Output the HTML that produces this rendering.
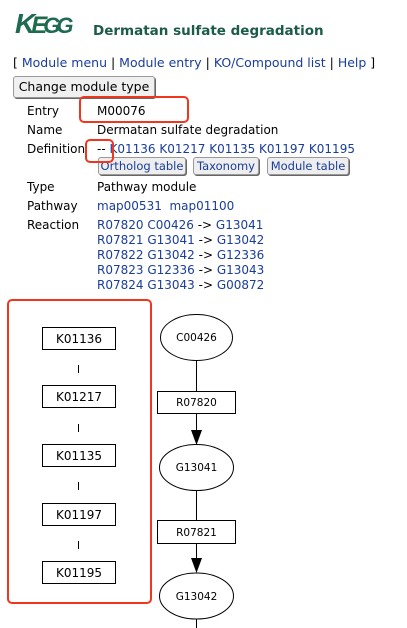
<!DOCTYPE html>
<html><head><meta charset="utf-8"><style>
body{margin:0;width:407px;height:628px;overflow:hidden;background:#fff;font-family:"DejaVu Sans","Liberation Sans",sans-serif;font-size:12px;color:#000;position:relative}
.a{position:absolute;white-space:nowrap}
.l{color:#1a3d9c}
.btn{position:absolute;white-space:nowrap;overflow:hidden;background:#eee;border:1px solid #999;border-radius:3px;box-shadow:1px 1px 0 #666;font-size:12px;text-align:center;line-height:17px}
.red{position:absolute;border:2.5px solid #f0361f;border-radius:5px}
</style></head><body>
<div class="a" style="left:15px;top:8px;font:bold 28px 'Liberation Sans',sans-serif;color:#1e6b4f;font-style:italic;letter-spacing:-4px">K<span style="font-size:24px">E</span><span style="font-size:22px">GG</span></div>
<div class="a" style="left:93px;top:23px;font-weight:bold;font-size:13.5px;color:#1c5a4a">Dermatan sulfate degradation</div>
<div class="a" style="left:13px;top:55px;font-size:12.5px">[ <span class="l">Module menu</span> | <span class="l">Module entry</span> | <span class="l">KO/Compound list</span> | <span class="l">Help</span> ]</div>
<div class="btn" style="left:13px;top:76px;width:140px;height:20px;line-height:20px;font-size:12.5px;background:#f0f0f0">Change module type</div>
<div class="a" style="left:27px;top:104px">Entry</div><div class="a" style="left:97px;top:104px">M00076</div>
<div class="a" style="left:27px;top:123px">Name</div><div class="a" style="left:97px;top:123px">Dermatan sulfate degradation</div>
<div class="a" style="left:27px;top:142px">Definition</div><div class="a" style="left:97px;top:142px">-- <span class="l">K01136 K01217 K01135 K01197 K01195</span></div>
<div class="btn l" style="left:98px;top:157px;width:86px;height:16px;font-size:11.5px">Ortholog table</div>
<div class="btn l" style="left:193px;top:157px;width:64px;height:16px;font-size:11.5px">Taxonomy</div>
<div class="btn l" style="left:267px;top:157px;width:80px;height:16px;font-size:11.5px">Module table</div>
<div class="a" style="left:27px;top:180px">Type</div><div class="a" style="left:97px;top:180px">Pathway module</div>
<div class="a" style="left:27px;top:199px">Pathway</div><div class="a l" style="left:97px;top:199px">map00531&nbsp;&nbsp;map01100</div>
<div class="a" style="left:27px;top:218px">Reaction</div>
<div class="a" style="left:97px;top:218px;line-height:15px"><span class="l">R07820 C00426</span> -&gt; <span class="l">G13041</span><br><span class="l">R07821 G13041</span> -&gt; <span class="l">G13042</span><br><span class="l">R07822 G13042</span> -&gt; <span class="l">G12336</span><br><span class="l">R07823 G12336</span> -&gt; <span class="l">G13043</span><br><span class="l">R07824 G13043</span> -&gt; <span class="l">G00872</span></div>
<div class="red" style="left:79px;top:96px;width:106px;height:23px"></div>
<div class="red" style="left:85px;top:139px;width:25px;height:20px"></div>
<div class="red" style="left:7px;top:299px;width:141px;height:301px"></div>
<svg class="a" style="left:0;top:0" width="407" height="628" font-family="DejaVu Sans,sans-serif" font-size="12">
<g fill="#fff" stroke="#000" stroke-width="1">
<rect x="42.5" y="327.5" width="73" height="22"/><rect x="42.5" y="385.5" width="73" height="22"/><rect x="42.5" y="444.5" width="73" height="22"/><rect x="42.5" y="503.5" width="73" height="22"/><rect x="42.5" y="561.5" width="73" height="22"/>
<line x1="78.5" y1="365" x2="78.5" y2="373"/><line x1="78.5" y1="424" x2="78.5" y2="432"/><line x1="78.5" y1="482" x2="78.5" y2="490"/><line x1="78.5" y1="541" x2="78.5" y2="549"/>
<ellipse cx="196.5" cy="337.5" rx="36" ry="23"/>
<line x1="196.5" y1="360" x2="196.5" y2="391"/>
<rect x="157.5" y="391.5" width="78" height="22"/>
<line x1="196.5" y1="413" x2="196.5" y2="430"/>
<ellipse cx="196.5" cy="467.5" rx="37" ry="23"/>
<line x1="196.5" y1="490" x2="196.5" y2="520"/>
<rect x="157.5" y="520.5" width="78" height="23"/>
<line x1="196.5" y1="543" x2="196.5" y2="559"/>
<ellipse cx="196.5" cy="596" rx="37" ry="23"/>
<line x1="196.5" y1="619" x2="196.5" y2="628"/>
</g>
<polygon points="191,430 202,430 196.5,445" fill="#000"/>
<polygon points="191,558 202,558 196.5,573" fill="#000"/>
<g text-anchor="middle" fill="#000">
<text x="79" y="343">K01136</text><text x="79" y="401">K01217</text><text x="79" y="460">K01135</text><text x="79" y="519">K01197</text><text x="79" y="577">K01195</text>
</g>
<g text-anchor="middle" fill="#000" font-size="10.5">
<text x="196.5" y="341">C00426</text><text x="196.5" y="406">R07820</text><text x="196.5" y="471">G13041</text><text x="196.5" y="536">R07821</text><text x="196.5" y="600">G13042</text>
</g>
</svg>
</body></html>
